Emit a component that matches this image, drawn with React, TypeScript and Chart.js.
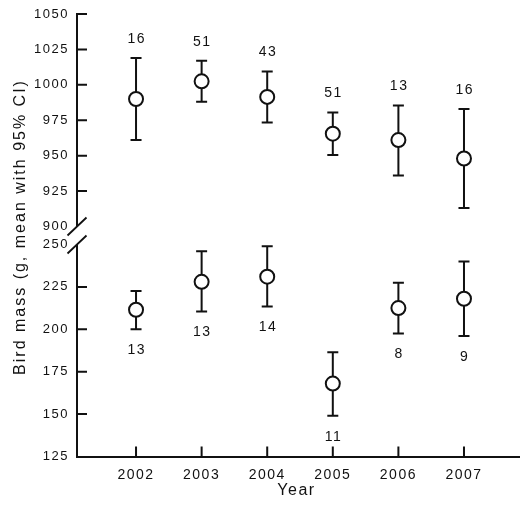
import React, { useEffect, useRef } from "react";
import { Chart, registerables } from "chart.js";

Chart.register(...registerables);

const years = [2002, 2003, 2004, 2005, 2006, 2007];

const topMean = [990, 1002.5, 991.5, 965.5, 961, 948];
const topLower = [961, 988, 973.5, 950.5, 936, 913];
const topUpper = [1019, 1017, 1009.5, 980.5, 985.5, 983];
const topN = ["16", "51", "43", "51", "13", "16"];

const botMean = [211.5, 228, 231, 168, 212.5, 218];
const botLower = [200, 210.5, 213.5, 149, 197.5, 196];
const botUpper = [222.5, 246, 249, 186.5, 227.5, 240];
const botN = ["13", "13", "14", "11", "8", "9"];

const topTicks = [900, 925, 950, 975, 1000, 1025, 1050];
const botTicks = [125, 150, 175, 200, 225, 250];

const yTitle = "Bird mass (g, mean with 95% CI)";
const xTitle = "Year";

const FONT = "'Liberation Sans', Arial, Helvetica, sans-serif";
const INK = "#111";

const customPlugin = {
  id: "custom",
  beforeDraw(chart: any) {
    const ctx = chart.ctx;
    ctx.save();
    ctx.fillStyle = "#fff";
    ctx.fillRect(0, 0, chart.width, chart.height);
    ctx.restore();
    (ctx as any).letterSpacing = "1.5px";
  },
  beforeDatasetsDraw(chart: any) {
    const ctx = chart.ctx;
    const xs = chart.scales.x;
    const groups = [
      { s: chart.scales.yTop, lo: topLower, hi: topUpper },
      { s: chart.scales.yBot, lo: botLower, hi: botUpper },
    ];
    ctx.save();
    ctx.strokeStyle = INK;
    ctx.lineWidth = 2;
    for (const g of groups) {
      years.forEach((yr, i) => {
        const x = xs.getPixelForValue(yr);
        const yl = g.s.getPixelForValue(g.lo[i]);
        const yh = g.s.getPixelForValue(g.hi[i]);
        ctx.beginPath();
        ctx.moveTo(x, yh);
        ctx.lineTo(x, yl);
        ctx.moveTo(x - 5.5, yh);
        ctx.lineTo(x + 5.5, yh);
        ctx.moveTo(x - 5.5, yl);
        ctx.lineTo(x + 5.5, yl);
        ctx.stroke();
      });
    }
    ctx.restore();
  },
  afterDraw(chart: any) {
    const ctx = chart.ctx;
    const xs = chart.scales.x;
    const yt = chart.scales.yTop;
    const yb = chart.scales.yBot;
    const ax = chart.chartArea.left;
    const bottom = chart.chartArea.bottom;
    ctx.save();
    ctx.strokeStyle = INK;
    ctx.lineWidth = 2;
    ctx.lineCap = "butt";
    const p1050 = yt.getPixelForValue(1050);
    const p900 = yt.getPixelForValue(900);
    const p250 = yb.getPixelForValue(250);
    ctx.beginPath();
    ctx.moveTo(ax, p1050 - 1);
    ctx.lineTo(ax, p900);
    ctx.moveTo(ax, p250);
    ctx.lineTo(ax, bottom);
    ctx.stroke();
    ctx.beginPath();
    topTicks.forEach((v) => {
      if (v === 900) return;
      const p = yt.getPixelForValue(v);
      ctx.moveTo(ax - 1, p);
      ctx.lineTo(ax + 10, p);
    });
    botTicks.forEach((v) => {
      if (v === 250 || v === 125) return;
      const p = yb.getPixelForValue(v);
      ctx.moveTo(ax, p);
      ctx.lineTo(ax + 10, p);
    });
    years.forEach((yr) => {
      const x = xs.getPixelForValue(yr);
      ctx.moveTo(x, bottom);
      ctx.lineTo(x, bottom - 10);
    });
    ctx.stroke();
    ctx.lineWidth = 1.8;
    ctx.beginPath();
    [p900, p250].forEach((p) => {
      ctx.moveTo(ax - 9.5, p + 9);
      ctx.lineTo(ax + 9.5, p - 9);
    });
    ctx.stroke();
    ctx.fillStyle = INK;
    ctx.font = `14px ${FONT}`;
    ctx.textAlign = "center";
    ctx.textBaseline = "middle";
    years.forEach((yr, i) => {
      const x = xs.getPixelForValue(yr) + 0.75;
      ctx.fillText(topN[i], x, yt.getPixelForValue(topUpper[i]) - 19);
      ctx.fillText(botN[i], x, yb.getPixelForValue(botLower[i]) + 21);
    });
    ctx.font = `16px ${FONT}`;
    ctx.fillText(xTitle, (chart.chartArea.left + chart.chartArea.right) / 2 - 2, 491);
    ctx.save();
    ctx.translate(21, 228);
    ctx.rotate(-Math.PI / 2);
    (ctx as any).letterSpacing = "2px";
    ctx.fillText(yTitle, 1, 0);
    ctx.restore();
    ctx.restore();
  },
};

function zeroPad(s: any) {
  s.paddingLeft = 0;
  s.paddingRight = 0;
  s.paddingTop = 0;
  s.paddingBottom = 0;
}

export default function App() {
  const ref = useRef<HTMLCanvasElement | null>(null);
  useEffect(() => {
    if (!ref.current) return;
    const tickFont = { family: FONT, size: 13 };
    const chart = new Chart(ref.current, {
      type: "scatter",
      data: {
        datasets: [
          {
            data: years.map((x, i) => ({ x, y: topMean[i] })),
            yAxisID: "yTop",
            pointRadius: 7,
            pointBorderWidth: 2,
            pointBackgroundColor: "#fff",
            pointBorderColor: INK,
            showLine: false,
            clip: false,
          },
          {
            data: years.map((x, i) => ({ x, y: botMean[i] })),
            yAxisID: "yBot",
            pointRadius: 7,
            pointBorderWidth: 2,
            pointBackgroundColor: "#fff",
            pointBorderColor: INK,
            showLine: false,
            clip: false,
          },
        ],
      },
      options: {
        animation: false,
        responsive: true,
        maintainAspectRatio: false,
        devicePixelRatio: 1,
        layout: { autoPadding: false, padding: { top: 14, left: 0, right: 0, bottom: 0 } },
        plugins: { legend: { display: false }, tooltip: { enabled: false } },
        scales: {
          x: {
            type: "linear",
            position: "bottom",
            min: 2001.1,
            max: 2007.854,
            grid: { display: false, drawTicks: false },
            border: { display: true, color: INK, width: 2 },
            ticks: {
              color: INK,
              font: { family: FONT, size: 14 },
              padding: 10,
              autoSkip: false,
              maxRotation: 0,
              callback: (v: any) => String(v),
            },
            afterBuildTicks: (s: any) => {
              s.ticks = years.map((v) => ({ value: v }));
            },
            afterFit: (s: any) => {
              s.height = 49.5;
              zeroPad(s);
            },
          },
          yBot: {
            type: "linear",
            position: "left",
            stack: "y",
            stackWeight: 230,
            min: 125,
            max: 260.6,
            grid: { display: false, drawTicks: false },
            border: { display: false },
            ticks: { color: INK, font: tickFont, padding: 8, autoSkip: false, callback: (v: any) => String(v) },
            afterBuildTicks: (s: any) => {
              s.ticks = botTicks.map((v) => ({ value: v }));
            },
            afterFit: (s: any) => {
              s.width = 77;
              zeroPad(s);
            },
          },
          yTop: {
            type: "linear",
            position: "left",
            stack: "y",
            stackWeight: 212.5,
            min: 900,
            max: 1050,
            grid: { display: false, drawTicks: false },
            border: { display: false },
            ticks: { color: INK, font: tickFont, padding: 8, autoSkip: false, callback: (v: any) => String(v) },
            afterBuildTicks: (s: any) => {
              s.ticks = topTicks.map((v) => ({ value: v }));
            },
            afterFit: (s: any) => {
              s.width = 77;
              zeroPad(s);
            },
          },
        },
      } as any,
      plugins: [customPlugin],
    });
    return () => chart.destroy();
  }, []);
  return (
    <div style={{ position: "fixed", left: 0, top: 0, width: 520, height: 506, background: "#fff" }}>
      <canvas ref={ref} />
    </div>
  );
}
